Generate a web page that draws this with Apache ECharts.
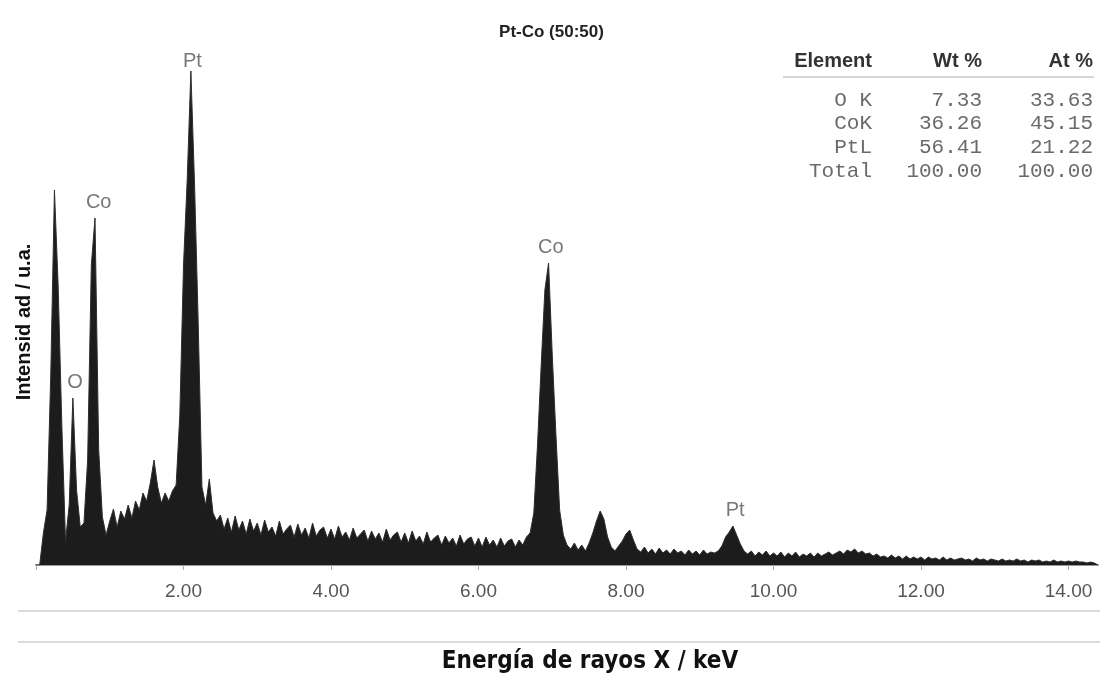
<!DOCTYPE html>
<html>
<head>
<meta charset="utf-8">
<script src="https://cdn.jsdelivr.net/npm/echarts@6/dist/echarts.min.js"></script>
<style>
html,body{margin:0;padding:0;background:#fff;}
#chart{width:1103px;height:675px;}
</style>
</head>
<body>
<div id="chart"></div>
<script>
// ---- data ----
const TITLE = 'Pt-Co (50:50)';
const X_NAME = 'Energía de rayos X / keV';
const Y_NAME = 'Intensid ad / u.a.';
const E_START = 0.0;     // keV of first channel
const E_STEP = 0.05;     // keV per channel
// intensity (a.u.), one value per 0.05 keV channel
const counts = [
  // 0.00 - 0.95
  0, 0, 32, 55, 190, 375, 280, 140, 24, 60, 167, 75, 38, 42, 105, 300, 347, 115, 48, 30,
  // 1.00 - 1.95
  44, 56, 38, 54, 46, 60, 47, 64, 55, 72, 64, 82, 105, 78, 62, 72, 64, 74, 80, 150,
  // 2.00 - 2.95
  300, 385, 494, 380, 240, 78, 60, 86, 52, 44, 50, 36, 47, 33, 49, 35, 44, 31, 46, 34,
  // 3.00 - 3.95
  42, 30, 45, 33, 38, 29, 44, 31, 36, 40, 28, 41, 30, 37, 27, 42, 29, 35, 38, 27,
  // 4.00 - 4.95
  36, 26, 39, 28, 33, 25, 37, 27, 31, 35, 24, 34, 26, 32, 23, 36, 25, 30, 33, 23,
  // 5.00 - 5.95
  32, 22, 34, 24, 29, 21, 33, 23, 27, 30, 20, 29, 22, 27, 19, 30, 21, 26, 28, 19,
  // 6.00 - 6.95
  27, 18, 28, 20, 25, 18, 27, 19, 24, 26, 18, 25, 20, 28, 32, 52, 120, 200, 275, 302,
  // 7.00 - 7.95
  210, 130, 55, 30, 20, 16, 22, 15, 20, 14, 22, 32, 44, 54, 46, 28, 18, 14, 19, 24,
  // 8.00 - 8.95
  31, 35, 25, 16, 13, 18, 12, 16, 11, 17, 12, 15, 11, 16, 12, 14, 10, 15, 11, 14,
  // 9.00 - 9.95
  10, 15, 11, 13, 12, 14, 19, 28, 33, 39, 30, 21, 14, 11, 14, 9, 13, 10, 14, 9,
  // 10.00 - 10.95
  12, 9, 13, 8, 12, 9, 13, 8, 11, 9, 12, 8, 12, 9, 11, 13, 10, 12, 14, 11,
  // 11.00 - 11.95
  15, 13, 16, 12, 14, 11, 12, 9, 11, 8, 9, 7, 10, 7, 9, 6, 9, 6, 8, 6,
  // 12.00 - 12.95
  8, 5, 8, 6, 7, 5, 8, 5, 7, 5, 6, 7, 5, 6, 4, 7, 5, 6, 4, 6,
  // 13.00 - 13.95
  5, 4, 6, 4, 5, 4, 6, 4, 5, 3, 5, 4, 5, 3, 4, 3, 5, 3, 4, 3,
  // 14.00 - 14.40
  4, 3, 4, 3, 3, 2, 3, 2, 0
];
// peak labels: name, energy (keV), intensity of label anchor
const peakNames = ['Pt', 'Co', 'O', 'Co', 'Pt'];
const peakEnergy = [2.12, 0.85, 0.53, 6.98, 9.48];
const peakHeight = [488, 347, 167, 302, 39];
// x-axis ticks
const X_MIN = 0, X_MAX = 14.4, X_INTERVAL = 2;
// quantification table
const tableHeader = ['Element', 'Wt %', 'At %'];
const tableRows = [
  ['O K', '7.33', '33.63'],
  ['CoK', '36.26', '45.15'],
  ['PtL', '56.41', '21.22'],
  ['Total', '100.00', '100.00']
];

// ---- chart ----
const chart = echarts.init(document.getElementById('chart'), null, {renderer: 'canvas'});
const seriesData = counts.map((v, i) => [+(E_START + i * E_STEP).toFixed(2), v]);
const labelData = peakNames.map((n, i) => ({name: n, value: [peakEnergy[i], peakHeight[i]]}));

const colRight = [872, 982, 1093];
const graphics = [];
tableHeader.forEach((t, c) => {
  graphics.push({type: 'text', x: colRight[c], y: 61, silent: true,
    style: {text: t, align: 'right', verticalAlign: 'middle',
      font: 'bold 20px "Liberation Sans", Arial, sans-serif', fill: '#333'}});
});
graphics.push({type: 'line', silent: true, shape: {x1: 783, y1: 77, x2: 1094, y2: 77},
  style: {stroke: '#c8c8c8', lineWidth: 1.5}});
tableRows.forEach((row, r) => {
  row.forEach((t, c) => {
    graphics.push({type: 'text', x: colRight[c], y: 100 + r * 23.7, silent: true,
      style: {text: t, align: 'right', verticalAlign: 'middle',
        font: '21px "Liberation Mono", "DejaVu Sans Mono", monospace', fill: '#6a6a6a'}});
  });
});
// faint scan rules under the axis
graphics.push({type: 'line', silent: true, shape: {x1: 18, y1: 611, x2: 1100, y2: 611},
  style: {stroke: '#cfcfcf', lineWidth: 1.5}});
graphics.push({type: 'line', silent: true, shape: {x1: 18, y1: 642, x2: 1100, y2: 642},
  style: {stroke: '#cfcfcf', lineWidth: 1.5}});
// axis names
graphics.push({type: 'text', x: 590, y: 662, silent: true,
  style: {text: X_NAME, align: 'center', verticalAlign: 'middle',
    font: 'bold 24px "Liberation Sans Narrow", "DejaVu Sans Condensed", Arial, sans-serif', fill: '#111'}});
graphics.push({type: 'text', x: 24, y: 322, rotation: Math.PI / 2, silent: true,
  style: {text: Y_NAME, align: 'center', verticalAlign: 'middle',
    font: 'bold 20px "Liberation Sans", Arial, sans-serif', fill: '#111'}});

chart.setOption({
  animation: false,
  backgroundColor: '#fff',
  title: {
    text: TITLE, left: 'center', top: 19,
    textStyle: {fontFamily: '"Liberation Sans", Arial, sans-serif', fontWeight: 'bold', fontSize: 17, color: '#222'}
  },
  grid: {left: 36, right: 5, top: 65, bottom: 110},
  xAxis: {
    type: 'value', min: X_MIN, max: X_MAX, interval: X_INTERVAL,
    axisLine: {show: true, lineStyle: {color: '#9a9a9a', width: 2}},
    axisTick: {show: true, length: 5, lineStyle: {color: '#aaa'}},
    splitLine: {show: false},
    axisLabel: {
      margin: 17, color: '#555', fontSize: 19,
      fontFamily: '"Liberation Sans", Arial, sans-serif',
      formatter: v => v === 0 ? '' : v.toFixed(2)
    }
  },
  yAxis: {
    type: 'value', min: 0, max: 500,
    axisLine: {show: false}, axisTick: {show: false},
    axisLabel: {show: false}, splitLine: {show: false}
  },
  series: [
    {
      type: 'line', data: seriesData, symbol: 'none', z: 2,
      lineStyle: {color: '#2e2e2e', width: 1},
      areaStyle: {color: '#1c1c1c', opacity: 1}
    },
    {
      type: 'scatter', data: labelData, symbolSize: 0, silent: true, z: 5,
      label: {
        show: true, position: 'top', distance: 6,
        formatter: p => p.name, color: '#555', fontSize: 20,
        fontFamily: '"Liberation Sans", Arial, sans-serif'
      }
    }
  ],
  graphic: graphics
});
</script>
</body>
</html>
